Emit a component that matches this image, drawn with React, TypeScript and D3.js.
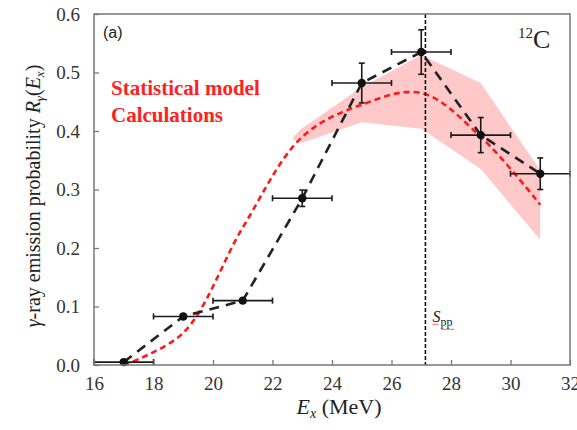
import React from "react";
import * as d3 from "d3";

// measured points
const energies = [17, 19, 21, 23, 25, 27, 29, 31];
const measured = [0.005, 0.083, 0.11, 0.285, 0.482, 0.535, 0.393, 0.327];
const measuredErr = [0.003, 0.004, 0.004, 0.014, 0.034, 0.038, 0.03, 0.027];
const energyErr = [1, 1, 1, 1, 1, 1, 1, 1];

// statistical model
const modelEnergies = [17, 19, 21, 23, 25, 27, 29, 31];
const modelValues = [0.0, 0.055, 0.235, 0.39, 0.445, 0.465, 0.39, 0.274];
const bandEnergies = [22.7, 23, 25, 27, 29, 31];
const bandUpper = [0.39, 0.405, 0.475, 0.53, 0.482, 0.333];
const bandLower = [0.385, 0.38, 0.415, 0.404, 0.335, 0.214];

const xTicks = [16, 18, 20, 22, 24, 26, 28, 30, 32];
const yTicks = [0, 0.1, 0.2, 0.3, 0.4, 0.5, 0.6];
const separationEnergy = 27.14;

const serif = "'Liberation Serif', 'Times New Roman', serif";

export default function App() {
  const ref = React.useRef<SVGSVGElement>(null);
  const width = 577;
  const height = 430;

  React.useEffect(() => {
    const svg = d3.select(ref.current);
    svg.selectAll("*").remove();
    const margin = { left: 94, right: 7, top: 14, bottom: 65 };

    const x = d3.scaleLinear().domain([16, 32]).range([margin.left, width - margin.right]);
    const y = d3.scaleLinear().domain([0, 0.6]).range([height - margin.bottom, margin.top]);

    // uncertainty band
    const band = d3
      .area<number>()
      .x((d, i) => x(bandEnergies[i]))
      .y0((d, i) => y(bandLower[i]))
      .y1((d) => y(d));
    svg.append("path").datum(bandUpper).attr("d", band).attr("fill", "#ffc9c9");

    // model curve
    const modelLine = d3
      .line<number>()
      .x((d, i) => x(modelEnergies[i]))
      .y((d) => y(d))
      .curve(d3.curveCatmullRom.alpha(0.5));
    svg
      .append("path")
      .datum(modelValues)
      .attr("d", modelLine)
      .attr("fill", "none")
      .attr("stroke", "#ff1a1a")
      .attr("stroke-width", 2.6)
      .attr("stroke-dasharray", "6,4");

    // data connecting line
    const dataLine = d3
      .line<number>()
      .x((d, i) => x(energies[i]))
      .y((d) => y(d));
    svg
      .append("path")
      .datum(measured)
      .attr("d", dataLine)
      .attr("fill", "none")
      .attr("stroke", "#222")
      .attr("stroke-width", 2.6)
      .attr("stroke-dasharray", "10,7");

    // separation energy line
    svg
      .append("line")
      .attr("x1", x(separationEnergy))
      .attr("x2", x(separationEnergy))
      .attr("y1", y(0.6))
      .attr("y2", y(0))
      .attr("stroke", "#111")
      .attr("stroke-width", 1.6)
      .attr("stroke-dasharray", "4,2");

    const spp = svg
      .append("text")
      .attr("x", x(separationEnergy) + 7)
      .attr("y", y(0.073))
      .style("font-family", serif)
      .style("font-size", "16px")
      .attr("fill", "#222");
    spp.append("tspan").style("font-style", "italic").text("S");
    spp.append("tspan").attr("dy", 4).style("font-size", "12px").text("pp");
    svg
      .append("line")
      .attr("x1", x(separationEnergy) + 7)
      .attr("x2", x(separationEnergy) + 13)
      .attr("y1", y(0.073) + 2)
      .attr("y2", y(0.073) + 2)
      .attr("stroke", "#ff6666")
      .attr("stroke-width", 1);
    svg
      .append("line")
      .attr("x1", x(separationEnergy) + 16)
      .attr("x2", x(separationEnergy) + 29)
      .attr("y1", y(0.073) + 7)
      .attr("y2", y(0.073) + 7)
      .attr("stroke", "#ff6666")
      .attr("stroke-width", 1);

    // error bars
    const bars = svg.append("g").attr("stroke", "#1a1a1a").attr("stroke-width", 1.6);
    energies.forEach((e, i) => {
      const cx = x(e);
      const cy = y(measured[i]);
      const x0 = x(e - energyErr[i]);
      const x1 = x(e + energyErr[i]);
      bars.append("line").attr("x1", x0).attr("x2", x1).attr("y1", cy).attr("y2", cy);
      bars.append("line").attr("x1", x0).attr("x2", x0).attr("y1", cy - 3).attr("y2", cy + 3);
      bars.append("line").attr("x1", x1).attr("x2", x1).attr("y1", cy - 3).attr("y2", cy + 3);
      const yt = y(measured[i] + measuredErr[i]);
      const yb = y(measured[i] - measuredErr[i]);
      if (yb - yt > 4) {
        bars.append("line").attr("x1", cx).attr("x2", cx).attr("y1", yt).attr("y2", yb);
        bars.append("line").attr("x1", cx - 3).attr("x2", cx + 3).attr("y1", yt).attr("y2", yt);
        bars.append("line").attr("x1", cx - 3).attr("x2", cx + 3).attr("y1", yb).attr("y2", yb);
      }
      svg.append("circle").attr("cx", cx).attr("cy", cy).attr("r", 4.2).attr("fill", "#111");
    });

    // frame
    svg
      .append("rect")
      .attr("x", margin.left)
      .attr("y", margin.top)
      .attr("width", width - margin.left - margin.right)
      .attr("height", height - margin.top - margin.bottom)
      .attr("fill", "none")
      .attr("stroke", "#777")
      .attr("stroke-width", 1.5);

    const xAxis = svg
      .append("g")
      .attr("transform", `translate(0, ${y(0)})`)
      .call(d3.axisBottom(x).tickValues(xTicks).tickSizeInner(-5).tickSizeOuter(0).tickPadding(12));
    const yAxis = svg
      .append("g")
      .attr("transform", `translate(${margin.left}, 0)`)
      .call(
        d3.axisLeft(y).tickValues(yTicks).tickFormat(d3.format(".1f")).tickSizeInner(-5).tickSizeOuter(0).tickPadding(14)
      );
    [xAxis, yAxis].forEach((a) => {
      a.select(".domain").remove();
      a.selectAll(".tick line").attr("stroke", "#777").attr("stroke-width", 1.3);
      a.selectAll(".tick text")
        .style("font-family", serif)
        .style("font-size", "19px")
        .attr("fill", "#333");
    });

    // axis titles
    const xt = svg
      .append("text")
      .attr("x", 339)
      .attr("y", 414)
      .attr("text-anchor", "middle")
      .style("font-family", serif)
      .style("font-size", "22px")
      .attr("fill", "#222");
    xt.append("tspan").style("font-style", "italic").text("E");
    xt.append("tspan").attr("dy", 4).style("font-size", "14px").style("font-style", "italic").text("x");
    xt.append("tspan").attr("dy", -4).text(" (MeV)");

    const yt = svg
      .append("text")
      .attr("transform", `translate(40, 196) rotate(-90)`)
      .attr("text-anchor", "middle")
      .style("font-family", serif)
      .style("font-size", "20px")
      .attr("fill", "#222");
    yt.append("tspan").style("font-style", "italic").text("γ");
    yt.append("tspan").text("-ray emission probability ");
    yt.append("tspan").style("font-style", "italic").text("R");
    yt.append("tspan").attr("dy", 4).style("font-size", "13px").style("font-style", "italic").text("γ");
    yt.append("tspan").attr("dy", -4).text("(");
    yt.append("tspan").style("font-style", "italic").text("E");
    yt.append("tspan").attr("dy", 4).style("font-size", "13px").style("font-style", "italic").text("x");
    yt.append("tspan").attr("dy", -4).text(")");

    // annotations
    svg
      .append("text")
      .attr("x", 103)
      .attr("y", 38)
      .style("font-family", "'Liberation Sans', Arial, sans-serif")
      .style("font-size", "16px")
      .attr("fill", "#222")
      .text("(a)");

    const label = svg
      .append("text")
      .style("font-family", serif)
      .style("font-size", "21px")
      .style("font-weight", "bold")
      .attr("fill", "#ff2020");
    label.append("tspan").attr("x", 111).attr("y", 95).text("Statistical model");
    label.append("tspan").attr("x", 111).attr("y", 122).text("Calculations");

    const nucleus = svg
      .append("text")
      .attr("x", 518)
      .attr("y", 48)
      .style("font-family", serif)
      .attr("fill", "#222");
    nucleus.append("tspan").attr("dy", -10).style("font-size", "15px").text("12");
    nucleus.append("tspan").attr("dy", 10).style("font-size", "26px").text("C");
  }, []);

  return (
    <svg
      ref={ref}
      width={width}
      height={height}
      style={{ position: "absolute", left: 0, top: 0, background: "#fff" }}
    />
  );
}
